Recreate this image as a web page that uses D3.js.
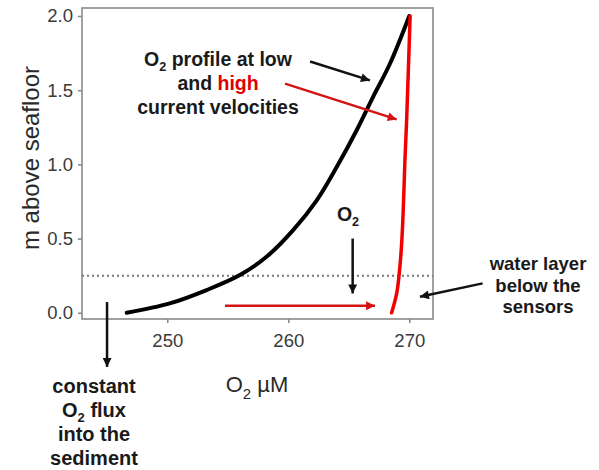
<!DOCTYPE html>
<html>
<head>
<meta charset="utf-8">
<script src="https://cdn.jsdelivr.net/npm/d3@7"></script>
<style>
  body { margin: 0; background: #fff; }
  text { font-family: "Liberation Sans", Arial, sans-serif; }
</style>
</head>
<body>
<div id="chart"></div>
<script>
// O2 concentration (uM) vs height above seafloor (m)
var lowO2 = [246.65, 250.2, 253.25, 256.0, 258.2, 260.4, 262.35, 264.0, 265.65, 267.0, 268.4, 270.0];
var lowZ  = [0.00, 0.063, 0.153, 0.254, 0.377, 0.557, 0.758, 0.982, 1.23, 1.454, 1.678, 2.00];
var highO2 = [268.54, 268.96, 269.17, 269.37, 269.5, 269.64, 269.78, 269.92, 270.07];
var highZ  = [0.00, 0.131, 0.265, 0.467, 0.691, 1.027, 1.296, 1.63, 2.00];
var sensorLevel = 0.25;

var xTicks = [250, 260, 270];
var yTicks = [0, 0.5, 1, 1.5, 2];

(function() {
  var width = 599, height = 470;
  var pLeft = 82, pTop = 8, pRight = 433, pBottom = 319;

  var svg = d3.select("#chart").append("svg")
    .attr("width", width)
    .attr("height", height);

  var x = d3.scaleLinear().domain([242.95, 271.96]).range([pLeft, pRight]);
  var y = d3.scaleLinear().domain([-0.042, 2.054]).range([pBottom, pTop]);

  // arrow heads
  var defs = svg.append("defs");
  [["blk", "#111"], ["red", "#d41414"]].forEach(function(m) {
    defs.append("marker")
      .attr("id", "head-" + m[0])
      .attr("markerUnits", "userSpaceOnUse")
      .attr("viewBox", "0 0 10 10")
      .attr("refX", 10).attr("refY", 5)
      .attr("markerWidth", 11).attr("markerHeight", 9)
      .attr("orient", "auto")
      .append("path")
      .attr("d", "M0,0 L10,5 L0,10 Z")
      .attr("fill", m[1]);
  });

  // box
  svg.append("rect")
    .attr("x", pLeft).attr("y", pTop)
    .attr("width", pRight - pLeft).attr("height", pBottom - pTop)
    .attr("fill", "none")
    .attr("stroke", "#8a8a8a")
    .attr("stroke-width", 1.6);

  // axes
  var yAxis = svg.append("g")
    .attr("transform", "translate(" + pLeft + ",0)")
    .call(d3.axisLeft(y).tickValues(yTicks).tickFormat(d3.format(".1f")).tickSize(4).tickPadding(5));
  var xAxis = svg.append("g")
    .attr("transform", "translate(0," + pBottom + ")")
    .call(d3.axisBottom(x).tickValues(xTicks).tickSize(4).tickPadding(11));

  [xAxis, yAxis].forEach(function(a) {
    a.select(".domain").remove();
    a.selectAll(".tick line").attr("stroke", "#8a8a8a").attr("stroke-width", 1.6);
    a.selectAll(".tick text")
      .attr("fill", "#3a3a3a")
      .style("font-size", "18.5px")
      .style("font-family", "'Liberation Sans', Arial, sans-serif");
  });

  // axis titles
  svg.append("text")
    .attr("transform", "translate(39,158) rotate(-90)")
    .attr("text-anchor", "middle")
    .attr("fill", "#2a2a2a")
    .style("font-size", "24px")
    .text("m above seafloor");

  var xt = svg.append("text")
    .attr("x", 257).attr("y", 392)
    .attr("text-anchor", "middle")
    .attr("fill", "#2a2a2a")
    .style("font-size", "22px");
  xt.append("tspan").text("O");
  xt.append("tspan").attr("dy", 7).style("font-size", "15px").text("2");
  xt.append("tspan").attr("dy", -7).text(" \u00b5M");

  // sensor level
  svg.append("line")
    .attr("x1", pLeft).attr("x2", pRight)
    .attr("y1", y(sensorLevel)).attr("y2", y(sensorLevel))
    .attr("stroke", "#777")
    .attr("stroke-width", 2)
    .attr("stroke-dasharray", "2,3");

  // profiles
  var line = d3.line()
    .x(function(d) { return x(d[0]); })
    .y(function(d) { return y(d[1]); })
    .curve(d3.curveCatmullRom);

  svg.append("path")
    .datum(d3.zip(lowO2, lowZ))
    .attr("d", line)
    .attr("fill", "none")
    .attr("stroke", "#000")
    .attr("stroke-width", 4)
    .attr("stroke-linecap", "round");

  svg.append("path")
    .datum(d3.zip(highO2, highZ))
    .attr("d", line)
    .attr("fill", "none")
    .attr("stroke", "#f00000")
    .attr("stroke-width", 3.5)
    .attr("stroke-linecap", "round");

  // annotation arrows (data units)
  var arrows = [
    [261.8, 1.693, 266.75, 1.566, "blk"],
    [259.73, 1.544, 268.96, 1.303, "red"],
    [265.32, 0.50, 265.32, 0.13, "blk"],
    [254.77, 0.047, 267.17, 0.047, "red"],
    [276.06, 0.198, 270.88, 0.108, "blk"],
    [245.02, 0.072, 245.02, -0.365, "blk"]
  ];

  svg.selectAll(".arrow")
    .data(arrows)
    .enter()
    .append("line")
    .attr("class", "arrow")
    .attr("x1", function(d) { return x(d[0]); })
    .attr("y1", function(d) { return y(d[1]); })
    .attr("x2", function(d) { return x(d[2]); })
    .attr("y2", function(d) { return y(d[3]); })
    .attr("stroke", function(d) { return d[4] === "red" ? "#d41414" : "#111"; })
    .attr("stroke-width", 2.5)
    .attr("marker-end", function(d) { return "url(#head-" + d[4] + ")"; });

  // annotation text
  function label(cx, cy, size) {
    return svg.append("text")
      .attr("x", cx).attr("y", cy)
      .attr("text-anchor", "middle")
      .attr("fill", "#1a1a1a")
      .style("font-size", size + "px")
      .style("font-weight", "bold");
  }
  function withSub(t, before, after, size) {
    t.append("tspan").text(before);
    t.append("tspan").attr("dy", 5).style("font-size", (size * 0.65) + "px").text("2");
    t.append("tspan").attr("dy", -5).text(after);
  }

  withSub(label(218, 66, 19.5), "O", " profile at low", 19.5);
  var t2 = label(218, 90, 19.5);
  t2.append("tspan").text("and ");
  t2.append("tspan").attr("fill", "#e00000").text("high");
  label(218, 114, 19.5).text("current velocities");

  withSub(label(348, 221, 19.5), "O", "", 19.5);

  label(538, 270, 18.5).text("water layer");
  label(538, 292, 18.5).text("below the");
  label(538, 313, 18.5).text("sensors");

  label(94, 393, 20).text("constant");
  withSub(label(94, 417, 20), "O", " flux", 20);
  label(94, 441, 20).text("into the");
  label(94, 465, 20).text("sediment");
})();
</script>
</body>
</html>
